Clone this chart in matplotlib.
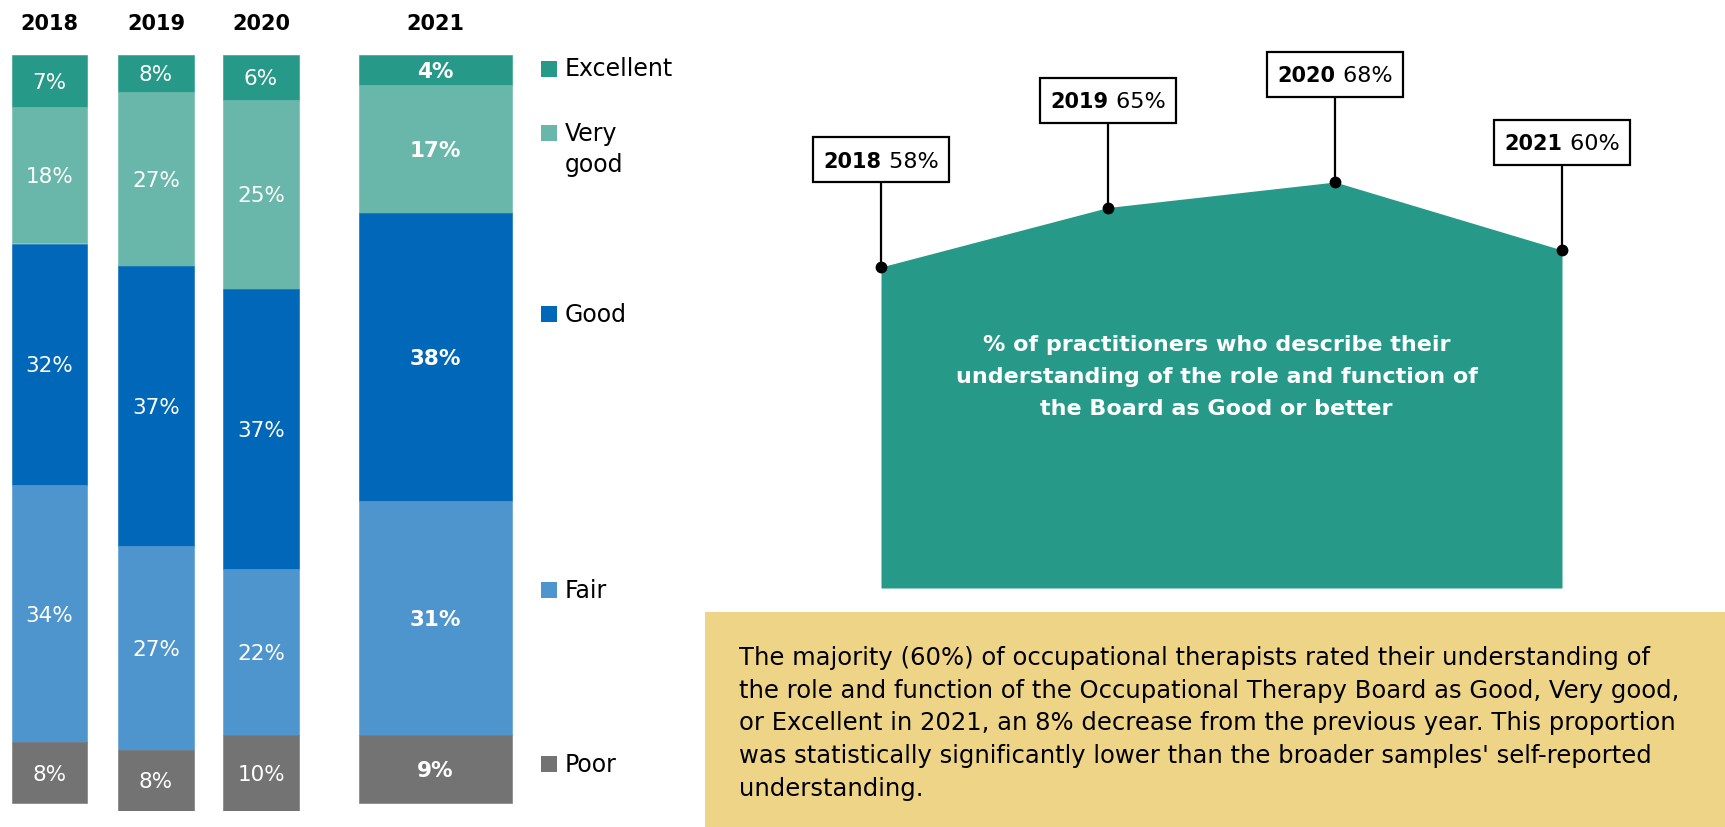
import matplotlib
matplotlib.use("Agg")
import matplotlib.pyplot as plt
import matplotlib.transforms as mtransforms
from matplotlib.patches import Rectangle

plt.rcParams['font.family'] = ['DejaVu Sans']

# stacked bars (labels as printed)
years = ['2018', '2019', '2020', '2021']
categories = ['Excellent', 'Very good', 'Good', 'Fair', 'Poor']
excellent = [7, 8, 6, 4]
very_good = [18, 27, 25, 17]
good = [32, 37, 37, 38]
fair = [34, 27, 22, 31]
poor = [8, 8, 10, 9]
# in the original the 2019 top segments are drawn shorter than their labels
excellent_drawn = [7, 5, 6, 4]
very_good_drawn = [18, 23, 25, 17]

# line / area panel
trend_years = ['2018', '2019', '2020', '2021']
good_or_better = [58, 65, 68, 60]

TEAL = '#269988'
colors = ['#269988', '#68b7aa', '#0067b9', '#4e95ce', '#727372']
YELLOW = '#eed487'

W, H = 1725, 827
fig = plt.figure(figsize=(W / 100, H / 100), dpi=100)


def fx(px):
    return px / W


def fy(py):
    return 1 - py / H


# ---- stacked bars ----
ax1 = fig.add_axes([0, fy(810.5), fx(700), (810.5 - 54.5) / H])
ax1.set_xlim(0, 700)
ax1.set_ylim(100, 0)
ax1.axis('off')

bar_x = [49.5, 156, 261, 435.5]
bar_w = [75, 76, 76, 153]

drawn = [excellent_drawn, very_good_drawn, good, fair, poor]
labels = [excellent, very_good, good, fair, poor]
bottom = [0, 0, 0, 0]
for seg, lab, col in zip(drawn, labels, colors):
    ax1.bar(bar_x, seg, width=bar_w, bottom=bottom, color=col,
            edgecolor=col, linewidth=0.4)
    for i in range(len(years)):
        yc = bottom[i] + seg[i] / 2
        ax1.text(bar_x[i], yc, f'{lab[i]}%', ha='center', va='center_baseline',
                 color='white', fontsize=15.5,
                 fontweight='bold' if years[i] == '2021' else 'normal')
    bottom = [b + s for b, s in zip(bottom, seg)]

for i, yr in enumerate(years):
    ax1.text(bar_x[i], 1.04, yr, transform=ax1.get_xaxis_transform(),
             ha='center', va='center', fontsize=15, fontweight='bold',
             color='black', clip_on=False)

# legend
legend_rows = [('Excellent', 76), ('Very', 140.5), ('good', 172),
               ('Good', 321.7), ('Fair', 597.7), ('Poor', 771.7)]
square_for = {'Excellent': colors[0], 'Very': colors[1], 'Good': colors[2],
              'Fair': colors[3], 'Poor': colors[4]}
for name, base in legend_rows:
    fig.text(fx(565), fy(base), name, ha='left', va='baseline',
             fontsize=17, color='black')
    if name in square_for:
        fig.add_artist(Rectangle((fx(541), fy(base + 0.5)), fx(16), 16 / H,
                                 transform=fig.transFigure,
                                 color=square_for[name], linewidth=0))

# ---- area panel ----
ax2 = fig.add_axes([fx(881), fy(588), fx(1562 - 881), (588 - 40) / H])
xs = list(range(len(trend_years)))
ymin = 58 - (588 - 267) / 8.5
ymax = 58 + (267 - 40) / 8.5
ax2.set_xlim(0, 3)
ax2.set_ylim(ymin, ymax)
ax2.axis('off')
ax2.fill_between(xs, good_or_better, ymin, color=TEAL, linewidth=0)
ax2.plot(xs, good_or_better, 'o', color='black', markersize=7.5,
         clip_on=False, zorder=5)

ax2.text(0.493, 0.385,
         '% of practitioners who describe their\n'
         'understanding of the role and function of\n'
         'the Board as Good or better',
         transform=ax2.transAxes, ha='center', va='center', color='white',
         fontsize=16, fontweight='bold', linespacing=1.77)

fig.canvas.draw()
renderer = fig.canvas.get_renderer()
for i, (yr, v) in enumerate(zip(trend_years, good_or_better)):
    trans = fig.dpi_scale_trans + mtransforms.ScaledTranslation(i, v, ax2.transData)
    ax2.plot([0, 0], [0, 0.85], color='black', linewidth=1.6,
             transform=trans, clip_on=False, zorder=4)
    ax2.add_patch(Rectangle((-0.68, 0.85), 1.36, 0.45, transform=trans,
                            facecolor='white', edgecolor='black',
                            linewidth=1.6, clip_on=False, zorder=6))
    t1 = ax2.text(0, 1.075, yr, transform=trans, ha='left', va='center_baseline',
                  fontsize=15, fontweight='bold', clip_on=False, zorder=7)
    t2 = ax2.text(0, 1.075, f' {v}%', transform=trans, ha='left',
                  va='center_baseline', fontsize=16, clip_on=False, zorder=7)
    w1 = t1.get_window_extent(renderer).width / 100
    w2 = t2.get_window_extent(renderer).width / 100
    start = -(w1 + w2) / 2
    t1.set_x(start)
    t2.set_x(start + w1)

# ---- note box ----
fig.add_artist(Rectangle((fx(705), 0), fx(W - 705), fy(612),
                         transform=fig.transFigure, color=YELLOW,
                         linewidth=0, zorder=0))
fig.text(fx(739), fy(646), (
    "The majority (60%) of occupational therapists rated their understanding of\n"
    "the role and function of the Occupational Therapy Board as Good, Very good,\n"
    "or Excellent in 2021, an 8% decrease from the previous year. This proportion\n"
    "was statistically significantly lower than the broader samples' self-reported\n"
    "understanding."),
    ha='left', va='top', fontsize=17.5, color='black', linespacing=1.46)

fig.savefig('out.png', dpi=100)
